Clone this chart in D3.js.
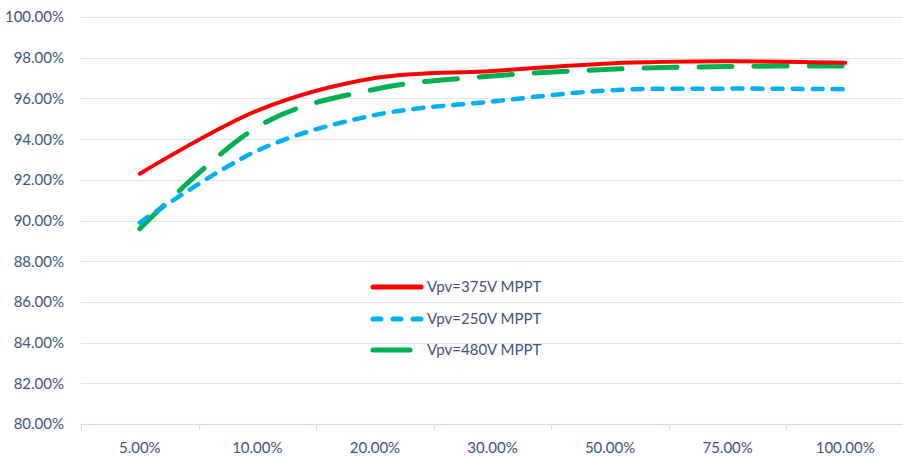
<!DOCTYPE html>
<html>
<head>
<meta charset="utf-8">
<script src="https://cdn.jsdelivr.net/npm/d3@7"></script>
<style>
  body { margin: 0; background: #fff; }
  text { font-family: Lato, "Open Sans", sans-serif; fill: #3E5478; }
</style>
</head>
<body>
<div id="chart"></div>
<script>
// load levels on the x axis
const categories = ['5.00%', '10.00%', '20.00%', '30.00%', '50.00%', '75.00%', '100.00%'];
// efficiency in %
const vpv375 = [92.3, 95.4, 97.0, 97.35, 97.72, 97.82, 97.75];
const vpv250 = [89.9, 93.43, 95.18, 95.85, 96.4, 96.48, 96.45];
const vpv480 = [89.6, 94.6, 96.45, 97.1, 97.43, 97.57, 97.59];
const yTicks = [80, 82, 84, 86, 88, 90, 92, 94, 96, 98, 100];

const series = [
  { name: 'Vpv=375V MPPT', values: vpv375, color: '#FF0000', width: 4, dash: null },
  { name: 'Vpv=250V MPPT', values: vpv250, color: '#00B0F0', width: 4.5, dash: '10,10' },
  { name: 'Vpv=480V MPPT', values: vpv480, color: '#00B050', width: 5, dash: '33,22' }
];

const svgWidth = 903, svgHeight = 456;
const svg = d3.select('#chart').append('svg')
    .attr('width', svgWidth)
    .attr('height', svgHeight);

const xScale = d3.scaleBand()
    .domain(categories)
    .range([81, 904]);
const yScale = d3.scaleLinear()
    .domain([80, 100])
    .range([424, 17]);

// gridlines
svg.append('g').selectAll('line')
    .data(yTicks.slice(1))
    .enter().append('line')
    .attr('x1', 81).attr('x2', 903)
    .attr('y1', d => Math.round(yScale(d)) + 0.5)
    .attr('y2', d => Math.round(yScale(d)) + 0.5)
    .attr('stroke', '#DCE4F2')
    .attr('stroke-width', 1);

// y labels
svg.append('g').selectAll('text')
    .data(yTicks)
    .enter().append('text')
    .attr('x', 64)
    .attr('y', d => yScale(d))
    .attr('dy', '0.36em')
    .attr('text-anchor', 'end')
    .style('font-size', '15px')
    .text(d => d.toFixed(2) + '%');

// x axis
const xAxis = d3.axisBottom(xScale).tickSize(0).tickSizeOuter(0);
const xg = svg.append('g')
    .attr('transform', `translate(0,${Math.round(yScale(80)) + 0.5})`)
    .call(xAxis);
xg.select('.domain').attr('stroke', '#D0DAEA').attr('d', 'M81,0H903');
xg.selectAll('text')
    .attr('dy', 0)
    .attr('y', 28)
    .style('font-size', '15px')
    .style('font-family', 'Lato, sans-serif')
    .attr('fill', '#3E5478');
// tick marks between categories
svg.append('g').selectAll('line')
    .data(categories)
    .enter().append('line')
    .attr('x1', d => Math.round(xScale(d)) + 0.5)
    .attr('x2', d => Math.round(xScale(d)) + 0.5)
    .attr('y1', Math.round(yScale(80)))
    .attr('y2', Math.round(yScale(80)) + 6)
    .attr('stroke', '#D0DAEA');

// lines
const line = d3.line()
    .x((d, i) => xScale(categories[i]) + xScale.bandwidth() / 2)
    .y(d => yScale(d))
    .curve(d3.curveCatmullRom.alpha(0));

const lineG = svg.append('g');
lineG.selectAll('path')
    .data(series.slice().reverse())
    .enter().append('path')
    .attr('d', d => line(d.values))
    .attr('fill', 'none')
    .attr('stroke', d => d.color)
    .attr('stroke-width', d => d.width)
    .attr('stroke-dasharray', d => d.dash)
    .attr('stroke-linecap', 'round');

// legend
const legend = svg.append('g');
const legendY = [287, 319, 350];
const legendEnd = [421, 421, 410];
series.forEach((s, i) => {
    legend.append('line')
        .attr('x1', 373).attr('x2', legendEnd[i])
        .attr('y1', legendY[i]).attr('y2', legendY[i])
        .attr('stroke', s.color)
        .attr('stroke-width', 5)
        .attr('stroke-dasharray', i === 1 ? '8,12' : null)
        .attr('stroke-linecap', 'round');
    legend.append('text')
        .attr('x', 427)
        .attr('y', legendY[i])
        .attr('dy', '0.36em')
        .style('font-size', '15px')
        .text(s.name);
});
</script>
</body>
</html>
